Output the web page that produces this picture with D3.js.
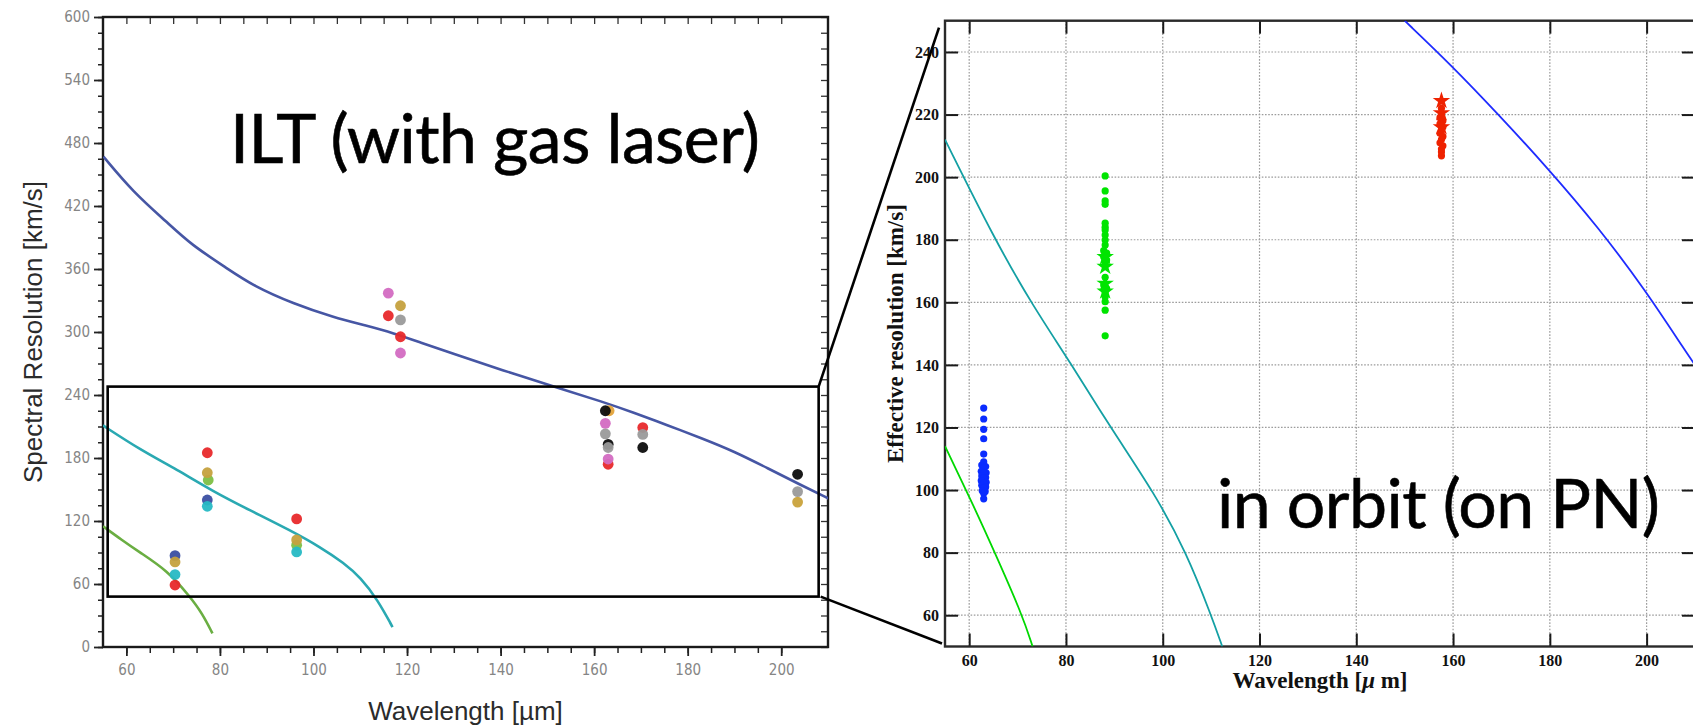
<!DOCTYPE html>
<html>
<head>
<meta charset="utf-8">
<script src="https://cdn.jsdelivr.net/npm/d3@7"></script>
<style>
  body { margin: 0; background: #fff; }
  svg { display: block; }
</style>
</head>
<body>
<svg id="fig" width="1693" height="726"></svg>
<script>
// ---------------- Tick labels ----------------
const iltXTicks = [60, 80, 100, 120, 140, 160, 180, 200];
const iltYTicks = [0, 60, 120, 180, 240, 300, 360, 420, 480, 540, 600];
const orbitXTicks = [60, 80, 100, 120, 140, 160, 180, 200];
const orbitYTicks = [60, 80, 100, 120, 140, 160, 180, 200, 220, 240];

// ---------------- ILT: model curves [wavelength, km/s] ----------------
const iltCurveBlue = [[55.1,467],[61.5,433],[68.6,405],[73.9,383],[81.4,361],[87.1,344],[95.7,327],[104.3,314],
  [111.4,306],[117.1,299],[122.9,290],[129.4,280],[140.1,264],[152.9,246],[161.5,234],[168.6,223],[175.8,211],
  [182.9,199],[190.1,186],[197.2,170],[204.3,154],[210.3,141]];
const iltCurveTeal = [[55,211],[62.9,188],[70.8,169],[78.6,148],[86.5,130],[95.1,111],[101.5,95],[106.5,80],
  [110.1,66],[113.7,45],[116.9,19]];
const iltCurveGreen = [[55,115],[59,102],[62.9,90],[68.7,73],[73.6,48],[76.2,32],[78.4,13]];

// ---------------- ILT: measured points [wavelength, km/s] ----------------
const iltOrange = [[163.2,225]];
const iltNavy   = [[70.4,87],[77.3,140]];
const iltGreen  = [[77.5,159],[96.4,97]];
const iltGold   = [[70.4,81],[77.3,166],[96.4,102],[118.6,325]];
const iltCyan   = [[70.4,69],[77.3,134],[96.4,90.5]];
const iltRed    = [[70.4,59],[77.3,185],[96.4,122],[116,315.5],[118.6,295.5],[163,174],[170.4,209]];
const iltPink   = [[116,337],[118.6,280],[162.4,213],[163,179]];
const iltBlack  = [[162.4,225],[163,193],[170.4,190],[203.5,164.5]];
const iltGray   = [[118.6,311.5],[162.4,203],[163,190],[170.4,202.5],[203.5,148]];
const iltGold2  = [[203.5,138]];

// ---------------- In orbit: model curves ----------------
const orbitCurveGreen = [[55,114],[61.2,94],[65,81],[71,60],[73.1,50]];
const orbitCurveTeal = [[55,212],[65.3,180],[73.1,159],[80.8,141],[89.6,119],[98.3,99],
  [104.9,80],[110,60],[112.3,50]];
const orbitCurveBlue = [[150,250],[159.5,236],[169.4,220],[179.5,203],[190,184],[199.7,164],[208.6,143],[210,140]];

// ---------------- In orbit: measured points ----------------
const orbitBlueDots = [[63,126.2],[63,122.7],[63,119.4],[63,116.4],[63,111.5],[63,109],[62.6,108],[63.4,107.5],
  [63,107],[62.5,106],[63.5,105.5],[63,105.4],[62.6,104.5],[63.4,104],[63,103.8],[62.5,103],[63.5,102.5],
  [63,102.2],[62.6,101.5],[63.4,101],[63,100.6],[62.7,99.8],[63.3,99.5],[63,99],[63,97.2]];
const orbitGreenDots = [[88.1,200.4],[88.1,195.6],[88.1,192.4],[88.1,191.3],[88.1,185.3],[88.1,184],[88.1,183.1],
  [88.1,181.5],[88.1,179.9],[88.1,178.3],[87.8,176.5],[88.4,175.7],[88.1,175],[87.8,174.6],[88.4,173.5],
  [88.1,172.5],[88.1,168],[87.8,165.5],[88.4,164.4],[88.1,163.4],[88.1,161.8],[88.1,160.2],[88.1,157.5],[88.1,149.3]];
const orbitGreenStars = [[88.1,174.5],[88.1,171.4],[88.1,166],[88.1,163.5]];
const orbitRedDots = [[157.6,222],[157.6,220.5],[157.3,219],[157.9,218],[157.3,217],[157.9,216],[157.6,215],
  [157.3,214],[157.9,213],[157.6,212],[157.3,211],[157.9,210],[157.6,209],[157.6,208],[157.6,206.8]];
const orbitRedStars = [[157.6,224.4],[157.6,220.5],[157.6,216]];

// ---------------- Drawing ----------------
const svg = d3.select("#fig");

// ===== Left panel: ILT =====
const L = { left: 103, right: 828, top: 17, bottom: 647 };
const xL = d3.scaleLinear().domain([55, 210]).range([L.left, L.right]);
const yL = d3.scaleLinear().domain([0, 600]).range([L.bottom, L.top]);

const gL = svg.append("g");
gL.append("clipPath").attr("id", "clipL").append("rect")
  .attr("x", L.left).attr("y", L.top).attr("width", L.right - L.left).attr("height", L.bottom - L.top);

const tickFontL = g => g.selectAll("text")
  .attr("font-family", "'DejaVu Sans Condensed', 'DejaVu Sans', sans-serif")
  .attr("font-size", 15).attr("fill", "#858585");

const minorX = d3.range(60, 201, 5);
const minorY = d3.range(0, 601, 15);

// bottom axis
gL.append("g").attr("transform", `translate(0,${L.bottom})`)
  .call(d3.axisBottom(xL).tickValues(minorX).tickSize(6).tickFormat(""))
  .call(g => g.select(".domain").remove())
  .call(g => g.selectAll("line").attr("stroke", "#222").attr("stroke-width", 1.5));
gL.append("g").attr("transform", `translate(0,${L.bottom})`)
  .call(d3.axisBottom(xL).tickValues(iltXTicks).tickSize(9).tickPadding(8))
  .call(g => g.select(".domain").remove())
  .call(g => g.selectAll("line").attr("stroke", "#222").attr("stroke-width", 1.8))
  .call(tickFontL);
// top axis (inward ticks)
gL.append("g").attr("transform", `translate(0,${L.top})`)
  .call(d3.axisTop(xL).tickValues(minorX).tickSize(-7).tickFormat(""))
  .call(g => g.select(".domain").remove())
  .call(g => g.selectAll("line").attr("stroke", "#333").attr("stroke-width", 1.3));
// left axis
gL.append("g").attr("transform", `translate(${L.left},0)`)
  .call(d3.axisLeft(yL).tickValues(minorY).tickSize(5).tickFormat(""))
  .call(g => g.select(".domain").remove())
  .call(g => g.selectAll("line").attr("stroke", "#222").attr("stroke-width", 1.5));
gL.append("g").attr("transform", `translate(${L.left},0)`)
  .call(d3.axisLeft(yL).tickValues(iltYTicks).tickSize(9).tickPadding(4))
  .call(g => g.select(".domain").remove())
  .call(g => g.selectAll("line").attr("stroke", "#222").attr("stroke-width", 1.8))
  .call(tickFontL);
// right axis (inward ticks)
gL.append("g").attr("transform", `translate(${L.right},0)`)
  .call(d3.axisRight(yL).tickValues(minorY).tickSize(-7).tickFormat(""))
  .call(g => g.select(".domain").remove())
  .call(g => g.selectAll("line").attr("stroke", "#333").attr("stroke-width", 1.3));

// frame
gL.append("rect").attr("x", L.left).attr("y", L.top)
  .attr("width", L.right - L.left).attr("height", L.bottom - L.top)
  .attr("fill", "none").attr("stroke", "#1a1a1a").attr("stroke-width", 2.4);

// curves
const lineL = d3.line().x(d => xL(d[0])).y(d => yL(d[1])).curve(d3.curveBasis);
const curvesL = gL.append("g").attr("clip-path", "url(#clipL)");
[[iltCurveBlue, "#4656a4"], [iltCurveTeal, "#2aa9b2"], [iltCurveGreen, "#6aae42"]].forEach(([data, col]) => {
  curvesL.append("path").datum(data).attr("d", lineL)
    .attr("fill", "none").attr("stroke", col).attr("stroke-width", 2.6);
});

// points
const dotsL = gL.append("g");
[[iltOrange, "#e3a33a"], [iltNavy, "#3b4fa2"], [iltGreen, "#7dbf45"], [iltGold, "#c5a13e"],
 [iltCyan, "#26b9c4"], [iltRed, "#e8292b"], [iltPink, "#d36cc2"], [iltBlack, "#0d0d0d"],
 [iltGray, "#9a9a9a"], [iltGold2, "#c9a23b"]].forEach(([data, col]) => {
  dotsL.selectAll(null).data(data).join("circle")
    .attr("cx", d => xL(d[0])).attr("cy", d => yL(d[1])).attr("r", 5.4)
    .attr("fill", col).attr("opacity", 0.95);
});

// axis titles
gL.append("text").attr("x", (L.left + L.right) / 2).attr("y", 720)
  .attr("text-anchor", "middle").attr("font-family", "'Liberation Sans', Arial, sans-serif")
  .attr("font-size", 26).attr("fill", "#2b2b2b").text("Wavelength [µm]");
gL.append("text").attr("transform", `translate(42,${(L.top + L.bottom) / 2}) rotate(-90)`)
  .attr("text-anchor", "middle").attr("font-family", "'Liberation Sans', Arial, sans-serif")
  .attr("font-size", 26).attr("fill", "#2b2b2b").text("Spectral Resolution [km/s]");

// zoom box (region shown in the right panel)
const boxX = [56, 208], boxY = [48, 248];
gL.append("rect").attr("x", xL(boxX[0])).attr("y", yL(boxY[1]))
  .attr("width", xL(boxX[1]) - xL(boxX[0])).attr("height", yL(boxY[0]) - yL(boxY[1]))
  .attr("fill", "none").attr("stroke", "#000").attr("stroke-width", 2.6);

// ===== Right panel: in orbit =====
const R = { left: 945, right: 1695, top: 20.7, bottom: 646.5 };
const xR = d3.scaleLinear().domain([55, 210]).range([R.left, R.right]);
const yR = d3.scaleLinear().domain([50, 250]).range([R.bottom, R.top]);

const gR = svg.append("g");
gR.append("clipPath").attr("id", "clipR").append("rect")
  .attr("x", R.left).attr("y", R.top).attr("width", R.right - R.left).attr("height", R.bottom - R.top);

// dotted grid
const grid = gR.append("g").attr("stroke", "#9c9c9c").attr("stroke-width", 1.2).attr("stroke-dasharray", "1.6,1.6");
grid.selectAll(null).data(orbitXTicks).join("line")
  .attr("x1", d => xR(d)).attr("x2", d => xR(d)).attr("y1", R.top).attr("y2", R.bottom);
grid.selectAll(null).data(orbitYTicks).join("line")
  .attr("y1", d => yR(d)).attr("y2", d => yR(d)).attr("x1", R.left).attr("x2", R.right);

const tickFontR = g => g.selectAll("text")
  .attr("font-family", "'Liberation Serif', 'Times New Roman', serif")
  .attr("font-weight", "bold").attr("font-size", 16).attr("fill", "#111");

gR.append("g").attr("transform", `translate(0,${R.bottom})`)
  .call(d3.axisBottom(xR).tickValues(orbitXTicks).tickSize(-13).tickPadding(8))
  .call(g => g.select(".domain").remove())
  .call(g => g.selectAll("line").attr("stroke", "#1a1a1a").attr("stroke-width", 2))
  .call(tickFontR);
gR.append("g").attr("transform", `translate(0,${R.top})`)
  .call(d3.axisTop(xR).tickValues(orbitXTicks).tickSize(-13).tickFormat(""))
  .call(g => g.select(".domain").remove())
  .call(g => g.selectAll("line").attr("stroke", "#1a1a1a").attr("stroke-width", 2));
gR.append("g").attr("transform", `translate(${R.left},0)`)
  .call(d3.axisLeft(yR).tickValues(orbitYTicks).tickSize(-13).tickPadding(6))
  .call(g => g.select(".domain").remove())
  .call(g => g.selectAll("line").attr("stroke", "#1a1a1a").attr("stroke-width", 2))
  .call(tickFontR);
gR.append("g").attr("transform", `translate(${R.right},0)`)
  .call(d3.axisRight(yR).tickValues(orbitYTicks).tickSize(-13).tickFormat(""))
  .call(g => g.select(".domain").remove())
  .call(g => g.selectAll("line").attr("stroke", "#1a1a1a").attr("stroke-width", 2));

gR.append("rect").attr("x", R.left).attr("y", R.top)
  .attr("width", R.right - R.left).attr("height", R.bottom - R.top)
  .attr("fill", "none").attr("stroke", "#2a2a2a").attr("stroke-width", 2.4);

// curves
const lineR = d3.line().x(d => xR(d[0])).y(d => yR(d[1])).curve(d3.curveBasis);
const curvesR = gR.append("g").attr("clip-path", "url(#clipR)");
[[orbitCurveGreen, "#00d800"], [orbitCurveTeal, "#14a0a4"], [orbitCurveBlue, "#1f2cff"]].forEach(([data, col]) => {
  curvesR.append("path").datum(data).attr("d", lineR)
    .attr("fill", "none").attr("stroke", col).attr("stroke-width", 1.8);
});

// points
const dotsR = gR.append("g");
[[orbitBlueDots, "#0a2cff"], [orbitGreenDots, "#00e400"], [orbitRedDots, "#ee2200"]].forEach(([data, col]) => {
  dotsR.selectAll(null).data(data).join("circle")
    .attr("cx", d => xR(d[0])).attr("cy", d => yR(d[1])).attr("r", 3.6).attr("fill", col);
});
const star = d3.symbol().type(d3.symbolStar).size(95);
[[orbitGreenStars, "#00e400"], [orbitRedStars, "#ee2200"]].forEach(([data, col]) => {
  dotsR.selectAll(null).data(data).join("path")
    .attr("transform", d => `translate(${xR(d[0])},${yR(d[1])})`).attr("d", star).attr("fill", col);
});

// axis titles
const xt = gR.append("text").attr("x", (R.left + R.right) / 2).attr("y", 688)
  .attr("text-anchor", "middle").attr("font-family", "'Liberation Serif', 'Times New Roman', serif")
  .attr("font-weight", "bold").attr("font-size", 23).attr("fill", "#111");
xt.append("tspan").text("Wavelength [");
xt.append("tspan").attr("font-style", "italic").text("μ");
xt.append("tspan").text(" m]");
gR.append("text").attr("transform", `translate(903,${(R.top + R.bottom) / 2}) rotate(-90)`)
  .attr("text-anchor", "middle").attr("font-family", "'Liberation Serif', 'Times New Roman', serif")
  .attr("font-weight", "bold").attr("font-size", 23).attr("fill", "#111")
  .text("Effective resolution [km/s]");

// ===== Connectors between the zoom box and the right panel =====
svg.append("g").attr("stroke", "#000").attr("stroke-width", 2.6)
  .call(g => g.append("line").attr("x1", xL(boxX[1])).attr("y1", yL(boxY[1])).attr("x2", R.left - 6).attr("y2", R.top + 7))
  .call(g => g.append("line").attr("x1", xL(boxX[1]) + 2).attr("y1", yL(boxY[0])).attr("x2", R.left - 3).attr("y2", R.bottom - 3));

// ===== Panel captions =====
svg.append("text").attr("x", 230).attr("y", 163)
  .attr("font-family", "Lato, 'Open Sans', sans-serif").attr("font-size", 68).attr("fill", "#000")
  .attr("stroke", "#000").attr("stroke-width", 0.6)
  .attr("textLength", 530).attr("lengthAdjust", "spacing")
  .text("ILT (with gas laser)");
svg.append("text").attr("x", 1217).attr("y", 528)
  .attr("font-family", "Lato, 'Open Sans', sans-serif").attr("font-size", 68).attr("fill", "#000")
  .attr("stroke", "#000").attr("stroke-width", 0.6)
  .attr("textLength", 443).attr("lengthAdjust", "spacing")
  .text("in orbit (on PN)");
</script>
</body>
</html>
